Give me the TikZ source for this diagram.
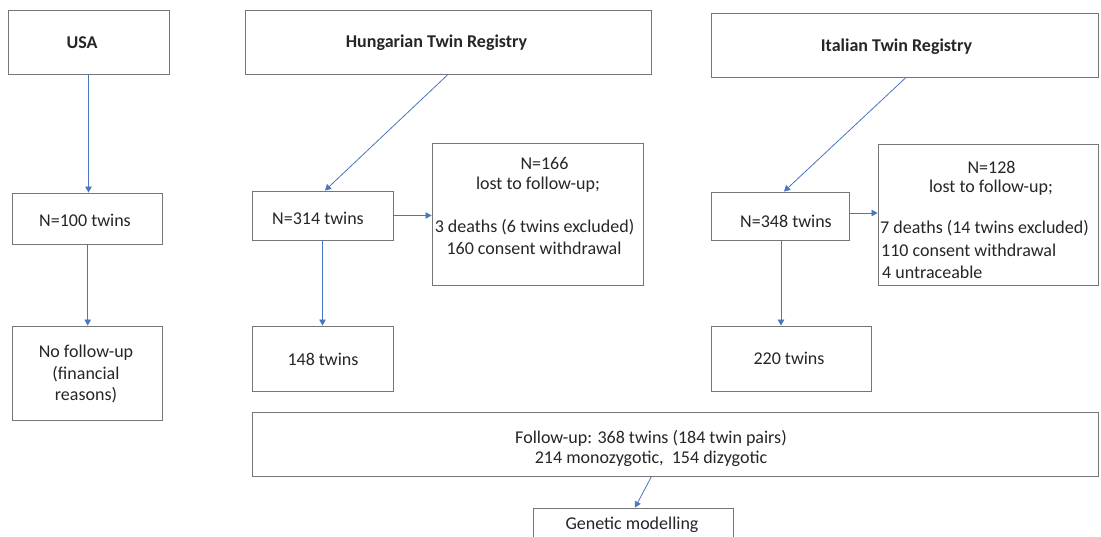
\documentclass[tikz,border=0pt]{standalone}
\usepackage{fontspec}
\setmainfont{Carlito}
\usetikzlibrary{arrows.meta}
\definecolor{boxgray}{HTML}{767676}
\definecolor{arrowblue}{HTML}{4A76BE}
\definecolor{txt}{HTML}{262626}
\begin{document}
\begin{tikzpicture}[x=1pt,y=-1pt,
  box/.style={draw=boxgray,line width=0.9pt,inner sep=0pt,fill=white},
  tx/.style={inner sep=0pt,text=txt,font=\fontsize{18}{21.5}\selectfont},
  btx/.style={tx,font=\fontsize{18}{21.5}\selectfont\bfseries},
  arr/.style={draw=arrowblue,line width=0.8pt,-{Triangle[length=6pt,width=6.5pt]}}]
\useasboundingbox (0,0) rectangle (1101,537);
\fill[white] (0,0) rectangle (1101,537);
\clip (0,0) rectangle (1101,537);
% boxes
\node[box,minimum width=161pt,minimum height=64pt] (usa) at (88.5,42) {};
\node[box,minimum width=406pt,minimum height=64pt] (hun) at (448,42) {};
\node[box,minimum width=387pt,minimum height=64pt] (ita) at (904.5,45) {};
\node[box,minimum width=150pt,minimum height=51pt] (n100) at (87.7,218.5) {};
\node[box,minimum width=141pt,minimum height=49pt] (n314) at (322.5,215.5) {};
\node[box,minimum width=211pt,minimum height=142pt] (l166) at (537.5,214) {};
\node[box,minimum width=138pt,minimum height=48pt] (n348) at (780,216) {};
\node[box,minimum width=220pt,minimum height=141pt] (l128) at (988,214.5) {};
\node[box,minimum width=150pt,minimum height=94pt] (nofu) at (87.7,373) {};
\node[box,minimum width=141pt,minimum height=65pt] (t148) at (322.5,358.5) {};
\node[box,minimum width=160pt,minimum height=65pt] (t220) at (791,358.5) {};
\node[box,minimum width=846pt,minimum height=64pt] (fu) at (675,444) {};
\node[box,minimum width=200pt,minimum height=42pt] (gen) at (633,529) {};
% texts
\node[btx] (usaT) at (82,43) {USA};
\node[btx] (hunT) at (436.5,43) {Hungarian Twin Registry};
\node[btx] (itaT) at (896.5,47) {Italian Twin Registry};
\node[tx] (n100T) at (85,220) {N=100 twins};
\node[tx] (n314T) at (318,218) {N=314 twins};
\node[tx] (n348T) at (786,221) {N=348 twins};
\node[tx] (l166a) at (544.5,163) {N=166};
\node[tx] (l166b) at (538,185) {lost to follow-up;};
\node[tx] (l166c) at (534.5,227) {3 deaths (6 twins excluded)};
\node[tx] (l166d) at (534,248) {160 consent withdrawal};
\node[tx] (l128a) at (991.5,167) {N=128};
\node[tx] (l128b) at (991,188) {lost to follow-up;};
\node[tx,anchor=west] (l128c) at (880,228) {7 deaths (14 twins excluded)};
\node[tx,anchor=west] (l128d) at (881,250) {110 consent withdrawal};
\node[tx,anchor=west] (l128e) at (882,272) {4 untraceable};
\node[tx,align=center] (nofuT) at (86,374) {No follow-up\\(financial\\reasons)};
\node[tx] (t148T) at (323,359) {148 twins};
\node[tx] (t220T) at (789,358) {220 twins};
\node[tx] (fuA) at (651,438) {Follow-up: 368 twins (184 twin pairs)};
\node[tx] (fuB) at (651,459) {214 monozygotic,\ \ 154 dizygotic};
\node[tx] (genT) at (632,525) {Genetic modelling};
% arrows
\draw[arr] (usa.south) -- (usa.south |- n100.north);
\draw[arr] (n100.south) -- (n100.south |- nofu.north);
\draw[arr] (hun.south) -- ([xshift=2.5pt]n314.north);
\draw[arr] (n314.east) -- (l166.west |- n314.east);
\draw[arr] (n314.south) -- (n314.south |- t148.north);
\draw[arr] ([xshift=1.5pt]ita.south) -- ([xshift=4pt]n348.north);
\coordinate (s348) at ([yshift=3pt]n348.east);
\draw[arr] (s348) -- (l128.west |- s348);
\coordinate (d348) at ([xshift=1pt]n348.south);
\draw[arr] (d348) -- (d348 |- t220.north);
\draw[arr] ([xshift=-23.5pt]fu.south) -- ([xshift=2pt]gen.north);
\end{tikzpicture}
\end{document}
